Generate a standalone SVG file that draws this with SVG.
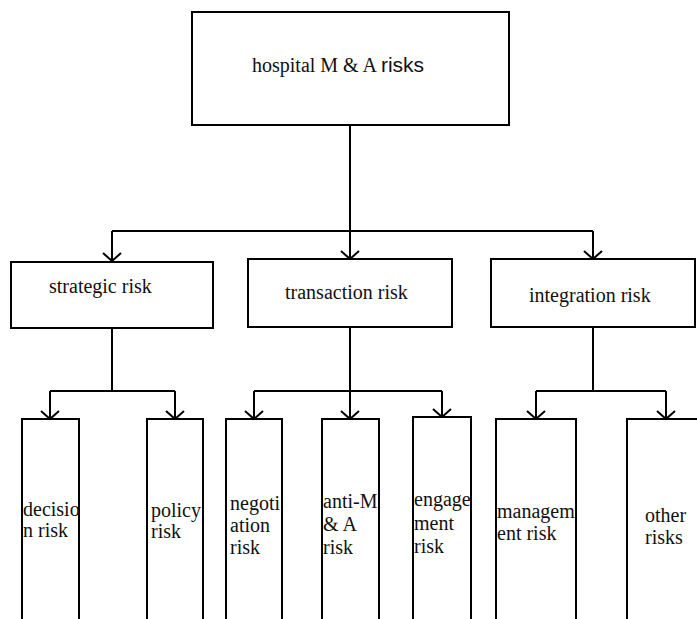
<svg xmlns="http://www.w3.org/2000/svg" width="697" height="619" viewBox="0 0 697 619">
  <style>
    .box { fill: #ffffff; stroke: #000000; stroke-width: 2; }
    .line { fill: none; stroke: #000000; stroke-width: 2; }
    text { font-family: 'Liberation Serif', 'DejaVu Serif', serif; font-size: 20px; fill: #111111; }
    tspan.sans { font-family: 'Liberation Sans', 'DejaVu Sans', sans-serif; font-size: 21px; }
  </style>
  <defs>
    <marker id="arr" viewBox="0 0 20 10" refX="10" refY="9" markerWidth="20" markerHeight="10" markerUnits="userSpaceOnUse" orient="0">
      <path d="M1,1 L10,9 L19,1" fill="none" stroke="#000000" stroke-width="2"/>
    </marker>
  </defs>
  <rect x="0" y="0" width="697" height="619" fill="#ffffff"/>

  <g id="connectors">
    <path class="line" d="M350,125 V231 M112,231 H593"/>
    <path class="line" d="M112,231 V261" marker-end="url(#arr)"/>
    <path class="line" d="M350,231 V259" marker-end="url(#arr)"/>
    <path class="line" d="M593,231 V259" marker-end="url(#arr)"/>

    <path class="line" d="M112,328 V391 M50,391 H175"/>
    <path class="line" d="M50,391 V419" marker-end="url(#arr)"/>
    <path class="line" d="M175,391 V419" marker-end="url(#arr)"/>

    <path class="line" d="M350,327 V391 M254,391 H442"/>
    <path class="line" d="M254,391 V419" marker-end="url(#arr)"/>
    <path class="line" d="M350,391 V419" marker-end="url(#arr)"/>
    <path class="line" d="M442,391 V417" marker-end="url(#arr)"/>

    <path class="line" d="M593,327 V391 M536,391 H666"/>
    <path class="line" d="M536,391 V419" marker-end="url(#arr)"/>
    <path class="line" d="M666,391 V419" marker-end="url(#arr)"/>
  </g>

  <g id="root">
    <rect class="box" x="192" y="12" width="317" height="113"/>
    <text x="252" y="72">hospital M &amp; A <tspan class="sans">risks</tspan></text>
  </g>

  <g id="strategic">
    <rect class="box" x="11" y="262" width="202" height="66"/>
    <text x="49" y="293">strategic risk</text>
  </g>
  <g id="transaction">
    <rect class="box" x="248" y="259" width="204" height="68"/>
    <text x="285" y="299">transaction risk</text>
  </g>
  <g id="integration">
    <rect class="box" x="491" y="259" width="204" height="68"/>
    <text x="529" y="302">integration risk</text>
  </g>

  <g id="decision">
    <rect class="box" x="22" y="419" width="57" height="230"/>
    <text x="23" y="516">decisio</text>
    <text x="23" y="537">n risk</text>
  </g>
  <g id="policy">
    <rect class="box" x="147" y="419" width="56" height="230"/>
    <text x="151" y="517">policy</text>
    <text x="151" y="538">risk</text>
  </g>
  <g id="negotiation">
    <rect class="box" x="226" y="419" width="56" height="230"/>
    <text x="230" y="510">negoti</text>
    <text x="230" y="532">ation</text>
    <text x="230" y="554">risk</text>
  </g>
  <g id="antiMA">
    <rect class="box" x="322" y="419" width="57" height="230"/>
    <text x="323" y="508">anti-M</text>
    <text x="323" y="531">&amp; A</text>
    <text x="323" y="554">risk</text>
  </g>
  <g id="engagement">
    <rect class="box" x="413" y="417" width="58" height="232"/>
    <text x="414" y="506">engage</text>
    <text x="414" y="530">ment</text>
    <text x="414" y="553">risk</text>
  </g>
  <g id="management">
    <rect class="box" x="496" y="419" width="80" height="230"/>
    <text x="497" y="518">managem</text>
    <text x="497" y="540">ent risk</text>
  </g>
  <g id="other">
    <rect class="box" x="627" y="419" width="80" height="230"/>
    <text x="645" y="522">other</text>
    <text x="645" y="544">risks</text>
  </g>
</svg>
